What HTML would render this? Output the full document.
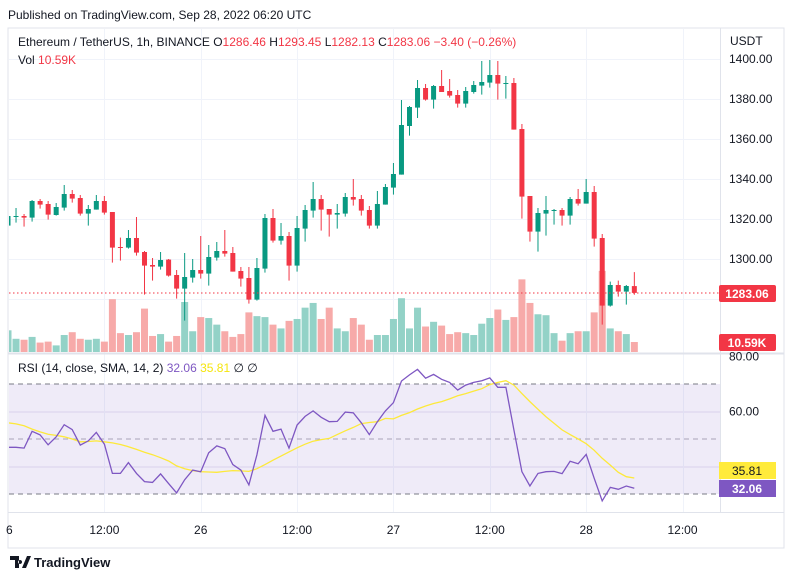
<!DOCTYPE html>
<html><head><meta charset="utf-8">
<style>
html,body{margin:0;padding:0;background:#fff;}
body{width:793px;height:579px;overflow:hidden;font-family:"Liberation Sans",sans-serif;}
svg text{font-family:"Liberation Sans",sans-serif;}
</style></head>
<body>
<svg id="chart" width="793" height="579" viewBox="0 0 793 579" xmlns="http://www.w3.org/2000/svg">
  <defs><clipPath id="plotClip"><rect x="9" y="29" width="711" height="483"/></clipPath></defs>
  <rect x="0" y="0" width="793" height="579" fill="#fff"/>
  <text x="8" y="19" font-size="12" fill="#131722">Published on TradingView.com, Sep 28, 2022 06:20 UTC</text>
  <rect x="8" y="28" width="776" height="520" fill="none" stroke="#e0e3eb"/>
  <g id="grid"></g>
  <rect x="9" y="384" width="711" height="110" fill="#7e57c2" fill-opacity="0.12"/>
  <g id="rsiGuides"></g>
  <g clip-path="url(#plotClip)">
  <g id="volumes"></g>
  <g id="candles"></g>
  </g>
  <line x1="9" x2="720" y1="293" y2="293" stroke="#f23645" stroke-dasharray="1.5,2.5"/>
  <g id="rsiLines" clip-path="url(#plotClip)"></g>
  <line x1="8" x2="784" y1="353.5" y2="353.5" stroke="#e0e3eb" stroke-width="2"/>
  <line x1="720.5" x2="720.5" y1="28" y2="512" stroke="#e0e3eb"/>
  <line x1="8" x2="784" y1="512.5" y2="512.5" stroke="#e0e3eb"/>
  <g id="axes" font-size="12" fill="#131722"></g>
  <text x="6" y="534" font-size="12" fill="#131722">6</text>
  <text x="18" y="46" font-size="12" fill="#131722">Ethereum / TetherUS, 1h, BINANCE <tspan fill="#131722">O</tspan><tspan fill="#f23645">1286.46</tspan> <tspan>H</tspan><tspan fill="#f23645">1293.45</tspan> <tspan>L</tspan><tspan fill="#f23645">1282.13</tspan> <tspan>C</tspan><tspan fill="#f23645">1283.06</tspan> <tspan fill="#f23645">−3.40 (−0.26%)</tspan></text>
  <text x="18" y="64" font-size="12" fill="#131722">Vol <tspan fill="#f23645">10.59K</tspan></text>
  <text x="18" y="372" font-size="12" fill="#131722">RSI (14, close, SMA, 14, 2) <tspan fill="#7e57c2">32.06</tspan> <tspan fill="#f5e50d">35.81</tspan> <tspan>∅</tspan> <tspan>∅</tspan></text>
  <text x="730" y="45" font-size="12" fill="#131722">USDT</text>
  <rect x="719" y="285" width="57" height="17" rx="2" fill="#f23645"/>
  <text x="747" y="298" font-size="12" font-weight="bold" fill="#fff" text-anchor="middle">1283.06</text>
  <rect x="719" y="334" width="57" height="17" rx="2" fill="#f23645"/>
  <text x="747" y="347" font-size="12" font-weight="bold" fill="#fff" text-anchor="middle">10.59K</text>
  <rect x="719" y="462" width="57" height="17" fill="#ffeb3b"/>
  <text x="747" y="475" font-size="12" fill="#131722" text-anchor="middle">35.81</text>
  <rect x="719" y="480" width="57" height="17" fill="#7e57c2"/>
  <text x="747" y="493" font-size="12" font-weight="bold" fill="#fff" text-anchor="middle">32.06</text>
  <g>
    <path d="M10 556h9v12h-4v-8h-5z M20 560a2 2 0 1 0 0.1 0z M22 568l5-12h4l-5 12z" fill="#131722"/>
    <text x="34" y="567" font-size="13" font-weight="bold" fill="#131722">TradingView</text>
  </g>
</svg>
<script>
const openP=[1316.7,1321.0,1321.5,1320.7,1329.0,1327.5,1322.0,1325.7,1332.5,1330.5,1322.7,1324.7,1329.0,1323.5,1306.0,1305.7,1310.5,1303.5,1297.0,1296.2,1299.7,1292.0,1285.2,1290.7,1294.5,1292.7,1300.7,1304.0,1303.0,1294.0,1290.5,1279.7,1295.2,1320.5,1309.2,1311.5,1296.7,1315.2,1324.2,1330.0,1325.0,1322.2,1322.7,1331.0,1330.0,1324.5,1316.7,1327.2,1335.7,1342.2,1366.5,1375.7,1385.5,1379.7,1386.5,1384.0,1382.0,1377.7,1383.5,1386.7,1388.2,1392.0,1387.5,1388.0,1365.0,1331.5,1313.7,1322.7,1324.2,1324.5,1321.7,1330.0,1327.7,1333.5,1310.5,1276.7,1287.0,1283.7,1286.46];
const highP=[1321.5,1325.5,1322.5,1329.5,1330.0,1329.0,1328.0,1337.0,1334.5,1332.0,1327.0,1332.0,1331.5,1323.5,1310.7,1314.5,1321.0,1304.0,1300.5,1303.5,1300.0,1294.5,1303.0,1300.0,1311.5,1307.0,1308.5,1314.5,1306.0,1296.0,1296.0,1300.5,1322.5,1325.0,1318.0,1313.5,1321.5,1327.0,1338.5,1332.0,1325.0,1327.5,1333.0,1340.0,1332.0,1326.5,1334.0,1337.5,1348.0,1379.5,1376.5,1389.5,1387.5,1387.0,1394.5,1390.0,1384.5,1386.0,1389.0,1399.0,1399.5,1399.0,1391.5,1390.5,1367.5,1331.5,1325.5,1331.5,1325.0,1325.5,1331.0,1335.0,1340.0,1336.5,1312.5,1288.7,1289.2,1287.0,1293.45];
const lowP=[1316.7,1318.2,1316.2,1318.7,1325.2,1319.7,1321.7,1324.2,1328.2,1321.7,1316.7,1324.7,1322.2,1298.2,1299.2,1305.2,1301.7,1282.2,1289.2,1294.7,1291.2,1280.2,1269.2,1288.2,1290.2,1286.7,1299.2,1301.2,1293.7,1286.2,1277.7,1279.2,1293.2,1308.2,1307.2,1289.2,1293.7,1308.7,1320.7,1314.2,1311.2,1315.2,1321.2,1326.7,1321.7,1315.2,1315.2,1327.2,1332.2,1342.2,1361.7,1370.5,1379.2,1375.2,1383.5,1380.7,1375.7,1375.7,1382.7,1382.2,1385.7,1379.7,1380.2,1364.7,1320.2,1308.7,1303.7,1311.7,1317.2,1316.7,1317.2,1326.7,1327.7,1306.2,1267.2,1276.2,1281.2,1277.2,1282.13];
const closeP=[1321.5,1321.5,1320.7,1329.0,1327.2,1322.2,1326.0,1332.5,1330.2,1322.7,1325.0,1329.0,1323.2,1305.7,1305.7,1310.5,1303.2,1296.7,1296.2,1299.5,1291.7,1285.2,1291.0,1294.5,1292.7,1301.0,1304.0,1302.7,1293.7,1290.2,1279.7,1295.5,1320.5,1309.2,1311.5,1296.7,1315.5,1324.5,1330.0,1324.7,1322.2,1323.0,1331.0,1329.7,1324.2,1316.7,1327.5,1336.0,1342.5,1367.0,1376.0,1385.5,1379.7,1386.5,1383.5,1381.7,1377.7,1384.0,1387.0,1388.5,1392.0,1387.7,1388.0,1364.7,1331.2,1313.7,1323.0,1324.5,1324.5,1321.7,1330.0,1327.7,1333.5,1310.2,1276.7,1287.0,1283.7,1286.5,1283.06];
const volumeK=[23,14,13,16,10,11,7,18,21,14,13,14,11,56,20,18,21,46,17,19,11,17,53,22,37,36,29,22,16,19,42,38,37,29,25,33,35,47,52,35,47,25,22,36,29,13,18,18,35,57,25,47,27,32,28,19,21,20,18,30,36,45,34,37,77,52,40,39,20,12,20,22,22,42,86,25,22,19,10.59];
const rsiVals=[47.0,47.0,46.7,52.8,51.5,47.9,50.8,55.2,53.4,47.8,49.3,52.4,48.1,37.5,37.5,41.4,37.5,34.5,34.2,37.3,33.8,30.4,35.2,38.7,38.1,45.0,47.5,46.5,40.7,38.7,33.3,44.2,58.6,52.8,53.6,46.7,55.1,58.2,60.2,57.9,56.3,56.4,59.8,59.5,55.9,51.6,56.3,60.2,63.2,71.1,73.3,75.3,72.1,73.5,71.7,70.6,67.8,69.6,70.6,71.2,72.2,68.8,68.8,53.3,38.1,32.9,37.5,38.1,38.2,37.4,41.9,41.0,44.4,35.7,27.5,32.4,31.7,32.9,32.06];
const rsiMA=[55.9,55.5,54.8,53.6,52.6,51.7,51.3,50.8,50.0,49.0,49.1,49.3,49.0,48.6,48.0,47.2,46.2,45.2,44.3,43.2,42.0,40.2,39.2,38.5,38.1,38.0,37.9,38.2,38.5,38.4,38.2,39.2,40.7,42.3,43.8,45.3,46.8,48.1,49.2,49.8,50.2,51.6,53.0,54.2,55.6,56.0,56.3,57.5,57.3,58.6,59.6,60.9,62.0,62.9,63.6,64.6,65.7,66.5,67.4,68.3,69.8,70.6,71.2,69.6,66.5,63.6,60.8,58.1,55.7,53.3,51.6,50.0,48.3,45.9,43.0,40.5,37.9,36.3,35.81];
const priceTicks=[1400,1380,1360,1340,1320,1300];
const rsiTicks=[80,60];
const timeLabels=["12:00","26","12:00","27","12:00","28","12:00"];
const timeIndex=[12,24,36,48,60,72,84];

const NS="http://www.w3.org/2000/svg";
const xAt=i=>8+8.03*i;
const yP=p=>59+(1400-p)*2;
const yV=v=>352-v/1.06;
const yR=r=>384+(70-r)*2.75;
function mk(tag,attrs,parent){const e=document.createElementNS(NS,tag);for(const k in attrs)e.setAttribute(k,attrs[k]);parent.appendChild(e);return e;}
const grid=document.getElementById('grid');
priceTicks.concat([1280]).forEach(p=>{const l=mk('line',{x1:9,x2:720,y1:yP(p)+0.5,y2:yP(p)+0.5,stroke:'#f0f3fa'},grid);

});
[60,40].forEach(r=>{const l=mk('line',{x1:9,x2:720,y1:yR(r)+0.5,y2:yR(r)+0.5,stroke:'#e6e2f2'},grid);

});
timeIndex.forEach(i=>{const x=Math.round(xAt(i))+0.5;if(x<9||x>720)return;const l=mk('line',{x1:x,x2:x,y1:29,y2:512,stroke:'#f0f3fa'},grid);

});
const rg=document.getElementById('rsiGuides');
[70,50,30].forEach(r=>{const l=mk('line',{x1:9,x2:720,y1:yR(r),y2:yR(r),stroke:r===50?'#a8a3b8':'#787b86','stroke-dasharray':'5,4'},rg);

});
const vg=document.getElementById('volumes'),cg=document.getElementById('candles');
for(let i=0;i<openP.length;i++){
  const up=closeP[i]>=openP[i];const x=xAt(i);
  const v=mk('rect',{x:x-3.5,y:yV(volumeK[i]),width:7,height:352-yV(volumeK[i]),fill:up?'#93d2c7':'#f7aaa9'},vg);
  
  
  const col=up?'#089981':'#f23645';
  const w=mk('line',{x1:x,x2:x,y1:yP(highP[i]),y2:yP(lowP[i]),stroke:col,'stroke-width':1},cg);
  
  
  const top=yP(Math.max(openP[i],closeP[i])),bot=yP(Math.min(openP[i],closeP[i]));
  const b=mk('rect',{x:x-2.5,y:top,width:5,height:Math.max(1,bot-top),fill:col},cg);
  
  
}
const rl=document.getElementById('rsiLines');
const ptsMA=rsiMA.map((r,i)=>xAt(i).toFixed(1)+','+yR(r).toFixed(1)).join(' ');
const ma=mk('polyline',{points:ptsMA,fill:'none',stroke:'#fde93a','stroke-width':1.3},rl);


const ptsR=rsiVals.map((r,i)=>xAt(i).toFixed(1)+','+yR(r).toFixed(1)).join(' ');
const rp=mk('polyline',{points:ptsR,fill:'none',stroke:'#7e57c2','stroke-width':1.3},rl);


const ax=document.getElementById('axes');
priceTicks.forEach(p=>{const t=mk('text',{x:729,y:yP(p)+4},ax);t.textContent=p.toFixed(2);

});
rsiTicks.forEach(r=>{const t=mk('text',{x:729,y:yR(r)+4},ax);t.textContent=r.toFixed(2);

});
timeLabels.forEach((s,k)=>{const x=xAt(timeIndex[k]);const t=mk('text',{x:x,y:534,'text-anchor':'middle'},ax);t.textContent=s;

});
</script>
</body></html>
